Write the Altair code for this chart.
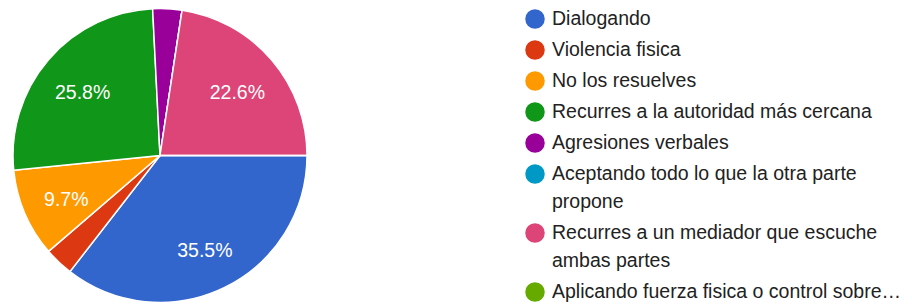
import math
import altair as alt
import pandas as pd

# ---- data ----
categories = [
    "Dialogando",
    "Violencia fisica",
    "No los resuelves",
    "Recurres a la autoridad más cercana",
    "Agresiones verbales",
    "Aceptando todo lo que la otra parte propone",
    "Recurres a un mediador que escuche ambas partes",
    "Aplicando fuerza fisica o control sobre…",
]
percentages = [35.5, 3.2, 9.7, 25.8, 3.2, 0.0, 22.6, 0.0]
colors = ["#3366CC", "#DC3912", "#FF9900", "#109618", "#990099", "#0099C6", "#DD4477", "#66AA00"]
legend_lines = [
    ["Dialogando"],
    ["Violencia fisica"],
    ["No los resuelves"],
    ["Recurres a la autoridad más cercana"],
    ["Agresiones verbales"],
    ["Aceptando todo lo que la otra parte", "propone"],
    ["Recurres a un mediador que escuche", "ambas partes"],
    ["Aplicando fuerza fisica o control sobre…"],
]

FONT = "Liberation Sans"
W, H = 896, 299
CX, CY, R = 152, 147.5, 147
ITEM_STEP, WRAP_STEP, FIRST_Y = 31, 28, 11
DOT_X, TEXT_X = 527, 544

# ---- tables ----
pie_df = pd.DataFrame({
    "cat": categories,
    "pct": percentages,
    "order": list(range(len(categories))),
    "label": [f"{p:.1f}%" if p >= 5 else "" for p in percentages],
})

item_rows, line_rows = [], []
y = FIRST_Y
for cat, lines in zip(categories, legend_lines):
    item_rows.append({"cat": cat, "y": y})
    for j, t in enumerate(lines):
        line_rows.append({"text": t, "y": y})
        y += WRAP_STEP if j < len(lines) - 1 else 0
    y += ITEM_STEP
items_df = pd.DataFrame(item_rows)
lines_df = pd.DataFrame(line_rows)

color_scale = alt.Scale(domain=categories, range=colors)
theta_scale = alt.Scale(range=[math.pi / 2, math.pi / 2 + 2 * math.pi])

base = alt.Chart(pie_df).encode(
    theta=alt.Theta("pct:Q", stack=True, scale=theta_scale),
    order=alt.Order("order:Q"),
    x=alt.value(CX),
    y=alt.value(CY),
)
arcs = base.mark_arc(outerRadius=R, stroke="white", strokeWidth=1.5).encode(
    color=alt.Color("cat:N", scale=color_scale, legend=None)
)
labels = base.mark_text(radius=102, dy=4, fontSize=19.5, font=FONT, color="white").encode(
    text="label:N"
)

ypix = alt.Y("y:Q", scale=alt.Scale(domain=[0, H], range=[0, H], nice=False, zero=False), axis=None)
dots = alt.Chart(items_df).mark_point(filled=True, shape="circle", size=380, opacity=1).encode(
    x=alt.value(DOT_X),
    y=ypix,
    color=alt.Color("cat:N", scale=color_scale, legend=None),
)
texts = alt.Chart(lines_df).mark_text(
    align="left", baseline="middle", fontSize=19.5, font=FONT, color="#222222"
).encode(x=alt.value(TEXT_X), y=ypix, text="text:N")

chart = alt.layer(arcs, labels, dots, texts).properties(
    width=W, height=H,
    autosize=alt.AutoSizeParams(type="none"),
    padding=0,
).configure_view(stroke=None).resolve_scale(y="independent")

chart.save("out.html", embed_options={"renderer": "svg", "actions": False})
